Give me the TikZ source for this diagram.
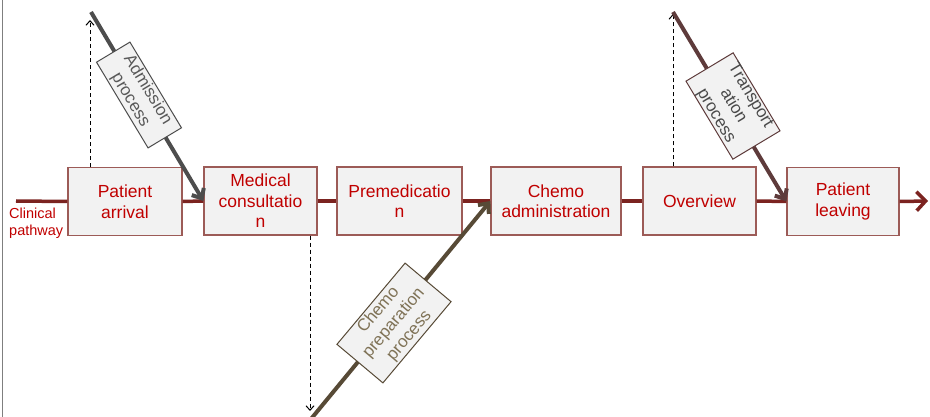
\documentclass[tikz,border=0pt]{standalone}
\usepackage{fontspec}
\setmainfont{Liberation Sans}
\usetikzlibrary{arrows.meta}
\definecolor{boxred}{HTML}{C00000}
\definecolor{pathred}{HTML}{7B2320}
\definecolor{boxedge}{HTML}{9C5B57}
\definecolor{boxfill}{HTML}{F2F2F2}
\definecolor{admgray}{HTML}{4D4D4D}
\definecolor{admtext}{HTML}{595959}
\definecolor{chemoarrow}{HTML}{574A36}
\definecolor{chemotext}{HTML}{7F7256}
\definecolor{transarrow}{HTML}{5E3B3B}
\definecolor{transtext}{HTML}{4A4A4A}
\definecolor{framegray}{HTML}{7F7F7F}
\begin{document}
\begin{tikzpicture}[x=1pt,y=-1pt,
  stepbox/.style={draw=boxedge, fill=boxfill, line width=1.2pt, minimum height=68pt,
    inner sep=0pt, align=center, text=boxred, font=\fontsize{17.5}{20.5}\selectfont},
  pathline/.style={draw=pathred, line width=3.5pt},
  procarrow/.style={line width=4pt, -{Straight Barb[length=8pt,width=14pt]}},
  dasharrow/.style={line width=1pt, dash pattern=on 4pt off 3pt,
    -{Straight Barb[length=4.5pt,width=8pt]}},
  labelbox/.style={fill=boxfill, line width=1pt, inner sep=0pt, align=center,
    font=\fontsize{17}{20}\selectfont},
  labeltext/.style={inner sep=0pt, align=center, font=\fontsize{17}{20}\selectfont}]
\useasboundingbox (0,0) rectangle (930,417);
\draw[framegray, line width=1.5pt] (2.5,0) -- (2.5,417);

% process steps
\node[stepbox, minimum width=114pt] (arr) at (125,201.5) {Patient\\arrival};
\node[stepbox, minimum width=113pt] (med) at (260.5,201) {Medical\\consultatio\\n};
\node[stepbox, minimum width=125pt] (pre) at (399.5,201) {Premedicatio\\n};
\node[stepbox, minimum width=130pt] (chemo) at (556,201) {Chemo\\administration};
\node[stepbox, minimum width=113pt] (over) at (699.5,201) {Overview};
\node[stepbox, minimum width=112pt] (leave) at (843,201.5) {Patient\\leaving};

% clinical pathway line
\coordinate (cpstart) at (16,201);
\coordinate (cpend) at (928,201);
\draw[pathline] (cpstart) -- (arr.west);
\draw[pathline] (arr.east) -- (med.west);
\draw[pathline] (med.east) -- (pre.west);
\draw[pathline] (pre.east) -- (chemo.west);
\draw[pathline] (chemo.east) -- (over.west);
\draw[pathline] (over.east) -- (leave.west);
\draw[pathline, -{Straight Barb[length=9pt,width=19pt]}] (leave.east) -- (cpend);
\node[anchor=west, inner sep=0pt, align=left, text=boxred,
  font=\fontsize{14.5}{16.5}\selectfont] (cp) at (9,223.5) {Clinical\\pathway};

% dashed arrows
\coordinate (dA) at (90,20);
\coordinate (dM) at (310,411);
\coordinate (dO) at (673,14);
\draw[dasharrow] (arr.north -| dA) -- (dA);
\draw[dasharrow] (med.south -| dM) -- (dM);
\draw[dasharrow] (over.north -| dO) -- (dO);

% process arrows
\coordinate (admtop) at (91,12);
\coordinate (chemobot) at (311,419);
\coordinate (transtop) at (673,12);
\draw[procarrow, admgray] (admtop) -- (med.west);
\draw[procarrow, chemoarrow] (chemobot) -- (chemo.west);
\draw[procarrow, transarrow] (transtop) -- (leave.west);

% process labels
\node[labelbox, draw=admgray, text=admtext, rotate=-59,
  minimum width=100pt, minimum height=39pt] (adm) at (139,95) {Admission\\process};
\node[labelbox, draw=chemoarrow, text=chemotext, rotate=50,
  minimum width=106pt, minimum height=60pt] (prep) at (394,323) {Chemo\\preparation\\process};
\node[labelbox, draw=transarrow, rotate=-59,
  minimum width=91pt, minimum height=55pt] (trans) at (733,106) {};
\node[labeltext, text=transtext, rotate=-59] (transtxt) at (trans.center) {Transport\\ation\\process};
\end{tikzpicture}
\end{document}
